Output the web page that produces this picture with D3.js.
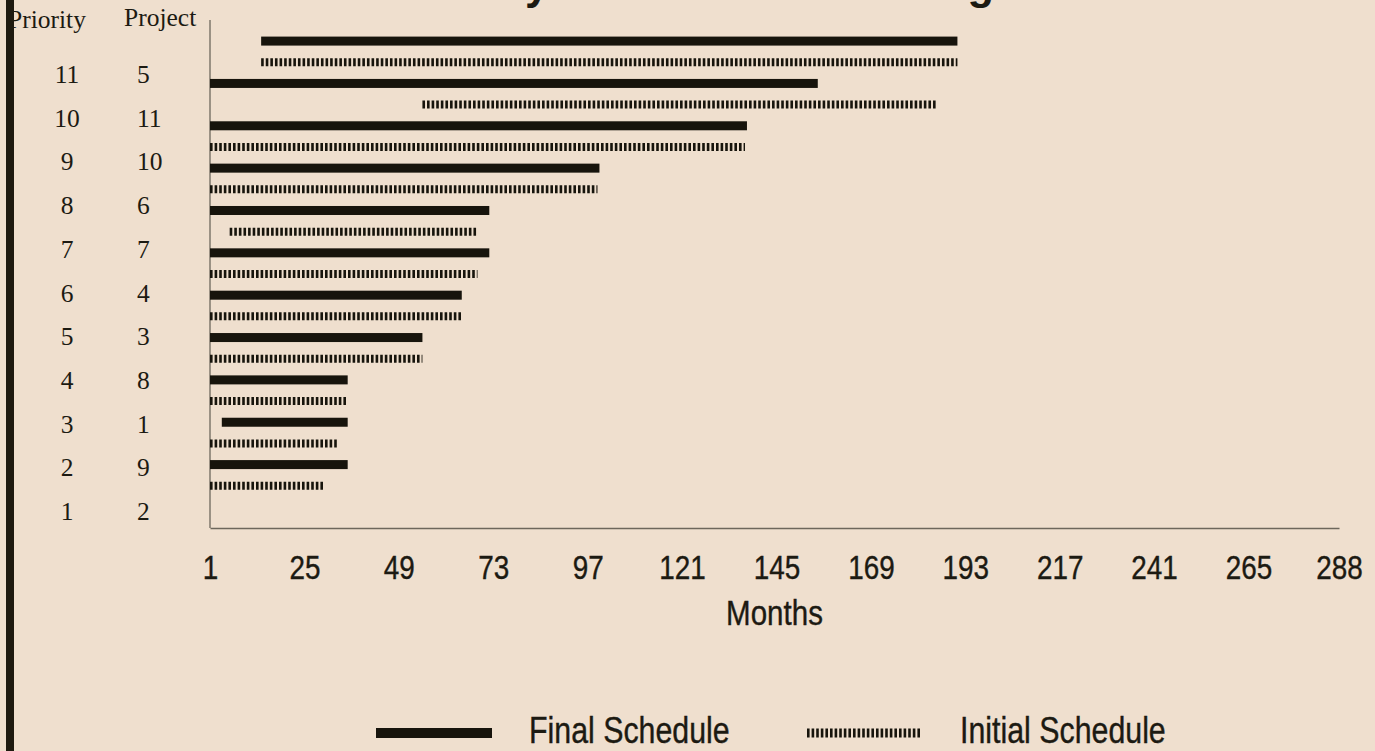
<!DOCTYPE html>
<html lang="en">
<head>
  <meta charset="utf-8">
  <title>Priority Scheduling</title>
  <script src="https://d3js.org/d3.v7.min.js"></script>
  <style>
    body { margin: 0; background: #efdfce; }
    .serif { font-family: "Liberation Serif", "Times New Roman", serif; font-size: 25.5px; fill: #1c1a12; }
    .sans { font-family: "Liberation Sans", Arial, sans-serif; fill: #1c1a12; stroke: #1c1a12; stroke-width: 0.4px; }
  </style>
</head>
<body>
<div id="chart"></div>
<script>
  // rows top to bottom
  var priorities = [11, 10, 9, 8, 7, 6, 5, 4, 3, 2, 1];
  var projects   = [5, 11, 10, 6, 7, 4, 3, 8, 1, 9, 2];
  // [start month, end month]
  var finalSchedule   = [[14, 191], [1, 155.5], [1, 137.5], [1, 100], [1, 72], [1, 72], [1, 65], [1, 55], [1, 36], [4, 36], [1, 36]];
  var initialSchedule = [[14, 191], [55, 185.5], [1, 137], [1, 99.5], [6, 69], [1, 69], [1, 65], [1, 55], [1, 36], [1, 33.3], [1, 30]];
  var monthTicks = [1, 25, 49, 73, 97, 121, 145, 169, 193, 217, 241, 265, 288];

  var width = 1375, height = 751;
  var plotTop = 20, plotBottom = 528;
  var narrow = "scale(0.82,1)"; // no narrow font installed, squeeze the sans text instead

  var svg = d3.select("#chart").append("svg")
      .attr("width", width)
      .attr("height", height);

  svg.append("rect")
      .attr("width", width).attr("height", height)
      .attr("fill", "#efdfce");

  var x = d3.scaleLinear().domain([1, 288]).range([210, 1339]);

  var rows = d3.range(priorities.length);
  var y = d3.scaleBand().domain(rows).range([30.5, 30.5 + 11 * 42.35]);
  var sub = d3.scalePoint().domain(["final", "initial"]).range([0, y.bandwidth()]).padding(0.5);
  var labelY = d3.scalePoint().domain(rows).range([83, 520]);

  // title, mostly cut off at the top edge
  svg.append("text")
      .attr("x", 397).attr("y", -1)
      .style("font-family", "'Liberation Sans', Arial, sans-serif")
      .style("font-weight", "bold")
      .style("font-size", "43.5px")
      .attr("fill", "#1c1a12")
      .text("Priority Effect on Scheduling");

  // x axis
  var xAxis = svg.append("g")
      .attr("transform", "translate(0," + plotBottom + ")")
      .call(d3.axisBottom(x).tickValues(monthTicks).tickSize(0).tickPadding(27).tickFormat(d3.format("d")));
  xAxis.select(".domain").attr("stroke", "#6d675c").attr("stroke-width", 1.3);
  xAxis.selectAll("text")
      .attr("class", "sans")
      .attr("transform", narrow)
      .style("font-size", "34px")
      .attr("fill", "#1c1a12");

  // left axis line
  svg.append("line")
      .attr("x1", x(1)).attr("x2", x(1))
      .attr("y1", plotTop).attr("y2", plotBottom)
      .attr("stroke", "#6d675c").attr("stroke-width", 1.3);

  svg.append("text")
      .attr("class", "sans")
      .attr("transform", "translate(" + ((x.range()[0] + x.range()[1]) / 2) + ",625) " + narrow)
      .attr("text-anchor", "middle")
      .style("font-size", "36px")
      .text("Months");

  // bars
  svg.append("g").selectAll("rect")
      .data(finalSchedule)
      .enter().append("rect")
        .attr("x", function(d) { return x(d[0]); })
        .attr("y", function(d, i) { return y(i) + sub("final") - 4.5; })
        .attr("width", function(d) { return x(d[1]) - x(d[0]); })
        .attr("height", 9)
        .attr("fill", "#17140c");

  svg.append("g").selectAll("line")
      .data(initialSchedule)
      .enter().append("line")
        .attr("x1", function(d) { return x(d[0]); })
        .attr("x2", function(d) { return x(d[1]); })
        .attr("y1", function(d, i) { return y(i) + sub("initial"); })
        .attr("y2", function(d, i) { return y(i) + sub("initial"); })
        .attr("stroke", "#17140c")
        .attr("stroke-width", 8)
        .attr("stroke-dasharray", "2.6,2");

  // row labels
  svg.append("text").attr("class", "serif").attr("x", 8).attr("y", 28).text("Priority");
  svg.append("text").attr("class", "serif").attr("x", 124).attr("y", 26).text("Project");

  svg.append("g").selectAll("text")
      .data(priorities)
      .enter().append("text")
        .attr("class", "serif")
        .attr("x", 67)
        .attr("y", function(d, i) { return labelY(i); })
        .attr("text-anchor", "middle")
        .text(function(d) { return d; });

  svg.append("g").selectAll("text")
      .data(projects)
      .enter().append("text")
        .attr("class", "serif")
        .attr("x", 137)
        .attr("y", function(d, i) { return labelY(i); })
        .text(function(d) { return d; });

  // thick frame line on the left
  svg.append("rect")
      .attr("x", 6).attr("y", 0)
      .attr("width", 8).attr("height", height)
      .attr("fill", "#1e1a10");

  // legend
  var legend = svg.append("g");
  legend.append("rect")
      .attr("x", 376).attr("y", 728).attr("width", 116).attr("height", 10)
      .attr("fill", "#17140c");
  legend.append("text").attr("class", "sans")
      .attr("transform", "translate(529,743) " + narrow)
      .style("font-size", "37px")
      .text("Final Schedule");
  legend.append("line")
      .attr("x1", 807).attr("x2", 922).attr("y1", 733).attr("y2", 733)
      .attr("stroke", "#17140c").attr("stroke-width", 9)
      .attr("stroke-dasharray", "2.6,2");
  legend.append("text").attr("class", "sans")
      .attr("transform", "translate(960,743) " + narrow)
      .style("font-size", "37px")
      .text("Initial Schedule");
</script>
</body>
</html>
